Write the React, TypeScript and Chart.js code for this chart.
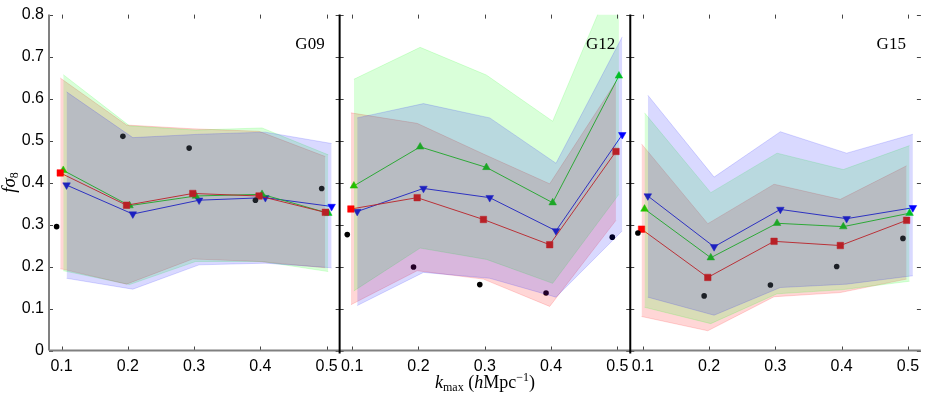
import React, { useEffect, useRef } from "react";
import { Chart, registerables } from "chart.js";

Chart.register(...registerables);

// ---------- data ----------
const K = [0.1, 0.2, 0.3, 0.4, 0.5];
const K_LABELS = ["0.1", "0.2", "0.3", "0.4", "0.5"];
const Y_TICKS = [0, 0.1, 0.2, 0.3, 0.4, 0.5, 0.6, 0.7, 0.8];
const Y_LABELS = ["0", "0.1", "0.2", "0.3", "0.4", "0.5", "0.6", "0.7", "0.8"];
const PANEL_NAMES = ["G09", "G12", "G15"];

// G09
const g09Data = [0.295, 0.51, 0.482, 0.358, 0.386];
const g09Red = [0.423, 0.346, 0.374, 0.368, 0.329];
const g09Green = [0.429, 0.345, 0.368, 0.372, 0.327];
const g09Blue = [0.394, 0.325, 0.358, 0.364, 0.343];
const g09RedHi = [0.649, 0.537, 0.528, 0.522, 0.462];
const g09RedLo = [0.195, 0.158, 0.218, 0.212, 0.197];
const g09GreenHi = [0.657, 0.535, 0.525, 0.53, 0.466];
const g09GreenLo = [0.19, 0.157, 0.212, 0.212, 0.188];
const g09BlueHi = [0.616, 0.507, 0.515, 0.52, 0.493];
const g09BlueLo = [0.172, 0.146, 0.204, 0.208, 0.197];

// G12
const g12Data = [0.276, 0.199, 0.157, 0.137, 0.27];
const g12Red = [0.337, 0.364, 0.312, 0.252, 0.474];
const g12Green = [0.392, 0.485, 0.436, 0.352, 0.654];
const g12Blue = [0.331, 0.386, 0.364, 0.285, 0.514];
const g12RedHi = [0.566, 0.541, 0.468, 0.397, 0.64];
const g12RedLo = [0.109, 0.19, 0.17, 0.105, 0.31];
const g12GreenHi = [0.646, 0.722, 0.656, 0.546, 0.92];
const g12GreenLo = [0.142, 0.244, 0.217, 0.16, 0.372];
const g12BlueHi = [0.554, 0.588, 0.554, 0.446, 0.747];
const g12BlueLo = [0.107, 0.186, 0.172, 0.127, 0.285];

// G15
const g15Data = [0.28, 0.13, 0.156, 0.2, 0.267];
const g15Red = [0.289, 0.174, 0.26, 0.25, 0.31];
const g15Green = [0.337, 0.221, 0.303, 0.295, 0.327];
const g15Blue = [0.368, 0.247, 0.336, 0.314, 0.34];
const g15RedHi = [0.492, 0.302, 0.396, 0.36, 0.44];
const g15RedLo = [0.081, 0.047, 0.128, 0.138, 0.17];
const g15GreenHi = [0.566, 0.376, 0.47, 0.431, 0.488];
const g15GreenLo = [0.103, 0.064, 0.135, 0.145, 0.165];
const g15BlueHi = [0.608, 0.413, 0.521, 0.47, 0.515];
const g15BlueLo = [0.127, 0.084, 0.15, 0.158, 0.178];

const PANELS = [
  { data: g09Data, red: g09Red, green: g09Green, blue: g09Blue, redHi: g09RedHi, redLo: g09RedLo, greenHi: g09GreenHi, greenLo: g09GreenLo, blueHi: g09BlueHi, blueLo: g09BlueLo },
  { data: g12Data, red: g12Red, green: g12Green, blue: g12Blue, redHi: g12RedHi, redLo: g12RedLo, greenHi: g12GreenHi, greenLo: g12GreenLo, blueHi: g12BlueHi, blueLo: g12BlueLo },
  { data: g15Data, red: g15Red, green: g15Green, blue: g15Blue, redHi: g15RedHi, redLo: g15RedLo, greenHi: g15GreenHi, greenLo: g15GreenLo, blueHi: g15BlueHi, blueLo: g15BlueLo },
];

// ---------- panel geometry in data units ----------
const X0 = 0.081; // left edge of each panel in k units
const W = 0.4386; // width of one panel in k units
const xOf = (p: number, k: number, off: number) => p * W + (k - X0) + off;
const pts = (p: number, vals: number[], off: number) =>
  K.map((k, i) => ({ x: xOf(p, k, off), y: vals[i] }));

const SERIES = [
  { key: "red", color: "#ff0000", fill: "rgba(255,0,0,0.16)", style: "rect", radius: 4.6, rotation: 0, off: -0.002, order: 3 },
  { key: "green", color: "#00dd00", fill: "rgba(0,255,0,0.15)", style: "triangle", radius: 4.4, rotation: 0, off: 0.0025, order: 2 },
  { key: "blue", color: "#0000ff", fill: "rgba(0,0,255,0.15)", style: "triangle", radius: 4.4, rotation: 180, off: 0.0075, order: 1 },
];

function buildDatasets() {
  const ds: any[] = [];
  PANELS.forEach((P: any, p) => {
    // black data points
    ds.push({
      data: pts(p, P.data, -0.0075),
      showLine: false,
      pointStyle: "circle",
      pointRadius: 2.8,
      pointBackgroundColor: "#000",
      pointBorderColor: "#000",
      pointBorderWidth: 0,
      order: 10,
    });
    SERIES.forEach((s) => {
      ds.push({
        data: pts(p, P[s.key], s.off),
        showLine: true,
        borderColor: s.color,
        borderWidth: 0.9,
        pointStyle: s.style,
        pointRotation: s.rotation,
        pointRadius: s.radius,
        pointBackgroundColor: s.color,
        pointBorderColor: s.color,
        pointBorderWidth: 0.5,
        fill: false,
        tension: 0,
        order: 10,
      });
    });
    SERIES.forEach((s) => {
      ds.push({
        data: pts(p, P[s.key + "Hi"], s.off),
        showLine: true,
        borderColor: s.fill,
        borderWidth: 1,
        backgroundColor: s.fill,
        pointRadius: 0,
        fill: "+1",
        tension: 0,
        order: s.order,
      });
      ds.push({
        data: pts(p, P[s.key + "Lo"], s.off),
        showLine: true,
        borderColor: s.fill,
        borderWidth: 1,
        pointRadius: 0,
        fill: false,
        tension: 0,
        order: s.order,
      });
    });
  });
  return ds;
}

type Part = { text: string; font: string; dy?: number };
function drawRich(ctx: CanvasRenderingContext2D, parts: Part[], cx: number, baseY: number) {
  let total = 0;
  for (const p of parts) {
    ctx.font = p.font;
    total += ctx.measureText(p.text).width;
  }
  let x = cx - total / 2;
  ctx.textAlign = "left";
  ctx.textBaseline = "alphabetic";
  for (const p of parts) {
    ctx.font = p.font;
    ctx.fillText(p.text, x, baseY + (p.dy || 0));
    x += ctx.measureText(p.text).width;
  }
}

const SERIF = "'Liberation Serif', 'DejaVu Serif', serif";

const decor = {
  id: "decor",
  afterDraw(chart: any) {
    const { ctx, chartArea, scales } = chart;
    const { left, right, top, bottom } = chartArea;
    const xs = scales.x;
    const ys = scales.y;
    const pw = (right - left) / 3;
    ctx.save();
    // inward ticks
    ctx.strokeStyle = "#444";
    ctx.lineWidth = 1;
    ctx.beginPath();
    for (let p = 0; p < 3; p++) {
      for (const k of K) {
        const px = Math.round(xs.getPixelForValue(xOf(p, k, 0))) + 0.5;
        ctx.moveTo(px, top);
        ctx.lineTo(px, top + 4);
        ctx.moveTo(px, bottom);
        ctx.lineTo(px, bottom - 4);
      }
      const pl = left + p * pw;
      const pr = left + (p + 1) * pw;
      for (const v of Y_TICKS) {
        const py = Math.round(ys.getPixelForValue(v)) + 0.5;
        ctx.moveTo(pl, py);
        ctx.lineTo(pl + 4, py);
        ctx.moveTo(pr - 4, py);
        ctx.lineTo(pr, py);
      }
    }
    ctx.stroke();
    // bottom spine
    ctx.strokeStyle = "#808080";
    ctx.lineWidth = 2;
    ctx.beginPath();
    ctx.moveTo(left, bottom);
    ctx.lineTo(right, bottom);
    ctx.stroke();
    // left spines
    for (let p = 0; p < 3; p++) {
      const pl = left + p * pw;
      ctx.strokeStyle = p === 0 ? "#808080" : "#000";
      ctx.beginPath();
      ctx.moveTo(pl, top);
      ctx.lineTo(pl, bottom + (p === 0 ? 0 : 3));
      ctx.stroke();
    }
    // panel names
    ctx.fillStyle = "#000";
    ctx.font = "17px " + SERIF;
    ctx.textAlign = "right";
    ctx.textBaseline = "middle";
    PANEL_NAMES.forEach((n, p) => {
      ctx.fillText(n, left + (p + 1) * pw - 15, 45);
    });
    // x title
    drawRich(
      ctx,
      [
        { text: "k", font: "italic 18px " + SERIF },
        { text: "max", font: "12px " + SERIF, dy: 3 },
        { text: " (", font: "18px " + SERIF },
        { text: "h", font: "italic 18px " + SERIF },
        { text: "Mpc", font: "18px " + SERIF },
        { text: "\u22121", font: "12px " + SERIF, dy: -7 },
        { text: ")", font: "18px " + SERIF },
      ],
      left + 1.5 * pw,
      388
    );
    // y title
    ctx.translate(15, (top + bottom) / 2);
    ctx.rotate(-Math.PI / 2);
    drawRich(
      ctx,
      [
        { text: "f", font: "italic 19px " + SERIF },
        { text: "\u03c3", font: "italic 19px " + SERIF },
        { text: "8", font: "12px " + SERIF, dy: 3 },
      ],
      0,
      0
    );
    ctx.restore();
  },
};

export default function App() {
  const ref = useRef<HTMLCanvasElement>(null);
  useEffect(() => {
    const chart = new Chart(ref.current as HTMLCanvasElement, {
      type: "scatter",
      data: { datasets: buildDatasets() },
      options: {
        animation: false,
        responsive: false,
        devicePixelRatio: 1,
        layout: { padding: { left: 0, top: 11, right: 2, bottom: 0 } },
        plugins: { legend: { display: false }, tooltip: { enabled: false } },
        scales: {
          x: {
            type: "linear",
            min: 0,
            max: 3 * W,
            grid: { display: false, drawTicks: false },
            border: { display: false },
            afterBuildTicks: (scale: any) => {
              const t: any[] = [];
              for (let p = 0; p < 3; p++) K.forEach((k) => t.push({ value: xOf(p, k, 0) }));
              scale.ticks = t;
            },
            afterFit: (scale: any) => {
              scale.height = 46.5;
            },
            ticks: {
              autoSkip: false,
              maxRotation: 0,
              minRotation: 0,
              padding: 6,
              color: "#000",
              font: { family: "'Liberation Sans', Arial, sans-serif", size: 16 },
              callback: (_v: any, i: number) => K_LABELS[i % 5],
            },
          },
          y: {
            type: "linear",
            min: 0,
            max: 0.8,
            grid: { display: false, drawTicks: false },
            border: { display: false },
            afterBuildTicks: (scale: any) => {
              scale.ticks = Y_TICKS.map((v) => ({ value: v }));
            },
            afterFit: (scale: any) => {
              scale.width = 49;
            },
            ticks: {
              padding: 5,
              color: "#000",
              font: { family: "'Liberation Sans', Arial, sans-serif", size: 16 },
              callback: (_v: any, i: number) => Y_LABELS[i],
            },
          },
        },
      } as any,
      plugins: [decor],
    });
    return () => chart.destroy();
  }, []);
  return (
    <div style={{ position: "absolute", left: 0, top: 0, width: 926, height: 397 }}>
      <canvas ref={ref} width={926} height={397} style={{ display: "block", width: 926, height: 397 }} />
    </div>
  );
}
